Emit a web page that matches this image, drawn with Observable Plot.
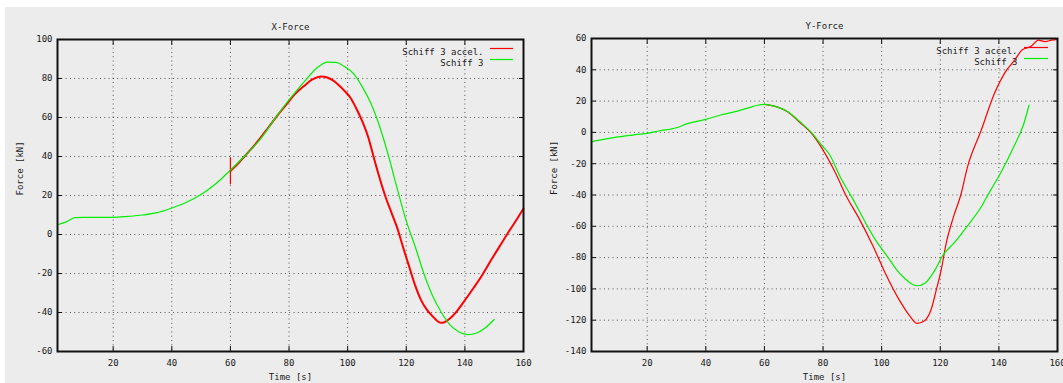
<!DOCTYPE html>
<html>
<head>
<meta charset="utf-8">
<script src="https://cdn.jsdelivr.net/npm/d3@7"></script>
<script src="https://cdn.jsdelivr.net/npm/@observablehq/plot@0.6"></script>
<style>
  html, body { margin: 0; padding: 0; background: #fff; }
  body { width: 1063px; height: 383px; position: relative; overflow: hidden; }
  #bg { position: absolute; left: 5px; top: 7px; right: 0; bottom: 0; background: #ececec; }
  .panel { position: absolute; top: 0; }
  .panel svg { overflow: visible; display: block; }
  #legend { position: absolute; left: 0; top: 0; z-index: 10; pointer-events: none; }
</style>
</head>
<body>
<div id="bg"></div>
<div id="left" class="panel" style="left:0px"></div>
<div id="right" class="panel" style="left:531px"></div>
<svg id="legend" width="1063" height="383">
  <line x1="490" x2="513" y1="48.5" y2="48.5" stroke="#ff0000" stroke-width="1.2"/>
  <line x1="490" x2="513" y1="59.5" y2="59.5" stroke="#00ee00" stroke-width="1.2"/>
  <line x1="1024" x2="1048" y1="47.5" y2="47.5" stroke="#ff0000" stroke-width="1.2"/>
  <line x1="1024" x2="1048" y1="58.5" y2="58.5" stroke="#00ee00" stroke-width="1.2"/>
</svg>
<script>
// ---------- data ----------
const xTicks = [20, 40, 60, 80, 100, 120, 140, 160];
const yTicksX = [-60, -40, -20, 0, 20, 40, 60, 80, 100];
const yTicksY = [-140, -120, -100, -80, -60, -40, -20, 0, 20, 40, 60];

// X-Force, Schiff 3
const xfGreenT = [1,4,7,10,15,20,25,30,35,40,45,50,55,60,65,70,75,80,85,90,93,96,99,102,105,108,111,114,117,120,123,126,129,132,135,138,141,144,147,150];
const xfGreenV = [5,6.5,8.7,8.8,8.8,8.8,9.3,10,11.2,13.6,16.5,20.5,26,33,40.5,48.5,59,69,78,86,88.4,88.3,86,82.5,75.7,67,55,40,23,7,-6,-20,-31.5,-40,-46.5,-50,-51.3,-50.5,-47.8,-43.6];
// X-Force, Schiff 3 accel. (start-up spike at t = 60)
const xfSpikeT = [60, 60, 60];
const xfSpikeV = [39.5, 26, 32.5];
const xfRedT = [60,63,66,70,73,76,79,82,85,88,91,93,95,97,99,101,103,105,107,109,111,113,115,117,119,121,123,125,127,129,131,132,133,135,137,140,143,146,149,152,155,158,160];
const xfRedV = [32.5,37,42,49,55,61,66.5,72,76,79.5,81,80.5,79,76.5,73.5,70,64.5,58,50,39,28.5,19,11,3,-7,-16.5,-26,-33.5,-38.5,-42,-44.8,-45.3,-45,-43,-39.8,-33.7,-27.3,-20.6,-13,-5.7,1.5,8.5,13.3];

// Y-Force, Schiff 3
const yfGreenT = [1,5,9,15,20,24,30,34,40,45,49,54,58,60,63,68,72,76,80,82,86,90,94,98,102,105,108,110,112,115,118,121,125,129,134,137,140.5,145,148.5,150.3];
const yfGreenV = [-6,-4.5,-3.2,-1.7,-0.6,0.9,3,5.8,8.3,11.1,12.8,15.4,17.5,17.9,16.9,13.2,7,0,-9.2,-13.5,-29,-42,-56,-69,-79.4,-87.5,-93.5,-96.5,-98,-96,-88.5,-78.3,-70,-60.4,-47.5,-37.5,-26.3,-9.5,5.5,17.5];
// Y-Force, Schiff 3 accel.
const yfRedT = [60,63,68,72,76,80,84,88,92,97,101,106,109.5,112,114.5,117,118.6,120.3,122,124.5,127,129.3,134,138.5,142,145.5,148,151,153.5,155.8,158,160];
const yfRedV = [17.9,16.9,13,6.5,-0.5,-11.3,-25,-41,-54,-72.5,-89,-107,-117,-122,-120.5,-112.5,-101,-88,-71,-54,-40,-22,1.5,25,38,46.5,52.8,55,59,58,59,59.5];

const seriesNames = ["Schiff 3 accel.", "Schiff 3"];
const colors = ["#ff0000", "#00ee00"];

const zip = (t, v) => t.map((d, i) => ({t: d, v: v[i]}));

function panel({title, yDomain, yTicks, red, spike, green, width, ml, mr, mt, mb, redWidth}) {
  const grid = {stroke: "#000", strokeOpacity: 0.65, strokeDasharray: "1,3.3", strokeWidth: 1};
  const fmt = d => String(d);
  const blank = () => "";
  return Plot.plot({
    width, height: 383,
    marginLeft: ml, marginRight: mr, marginTop: mt, marginBottom: mb,
    style: {background: "transparent", fontFamily: "'DejaVu Sans Mono', monospace", fontSize: "9px", color: "#1a1a1a", overflow: "visible"},
    x: {domain: [1, 160], label: null},
    y: {domain: yDomain, label: null},
    marks: [
      Plot.gridX(xTicks.filter(d => d < 160), grid),
      Plot.gridY(yTicks, grid),
      spike ? Plot.line(spike, {x: "t", y: "v", stroke: colors[0], strokeWidth: 1.2}) : null,
      Plot.line(red, {x: "t", y: "v", stroke: colors[0], strokeWidth: redWidth, curve: "monotone-x"}),
      Plot.line(green, {x: "t", y: "v", stroke: colors[1], strokeWidth: 1.2, curve: "monotone-x"}),
      Plot.axisX(xTicks, {anchor: "bottom", tickSize: 0, tickPadding: 8, tickFormat: fmt, label: null}),
      Plot.axisX(xTicks, {anchor: "bottom", tickSize: -5, tickFormat: blank, label: null, stroke: "#111"}),
      Plot.axisX(xTicks, {anchor: "top", tickSize: -5, tickFormat: blank, label: null, stroke: "#111"}),
      Plot.axisY(yTicks, {anchor: "left", tickSize: 0, tickPadding: 5, tickFormat: fmt, label: null}),
      Plot.axisY(yTicks, {anchor: "left", tickSize: -5, tickFormat: blank, label: null, stroke: "#111"}),
      Plot.axisY(yTicks, {anchor: "right", tickSize: -5, tickFormat: blank, label: null, stroke: "#111"}),
      Plot.frame({stroke: "#111", strokeWidth: 2}),
      Plot.text([title], {frameAnchor: "top", dy: -16, fill: "#1a1a1a"}),
      Plot.text(["Time [s]"], {frameAnchor: "bottom", dy: 28, fill: "#1a1a1a"}),
      Plot.text(["Force [kN]"], {frameAnchor: "left", rotate: -90, dx: -37.5, fill: "#1a1a1a"}),
      Plot.text([seriesNames[0]], {frameAnchor: "top-right", textAnchor: "end", dx: -40, dy: 9, fill: "#1a1a1a"}),
      Plot.text([seriesNames[1]], {frameAnchor: "top-right", textAnchor: "end", dx: -40, dy: 20.5, fill: "#1a1a1a"})
    ]
  });
}

document.getElementById("left").appendChild(panel({
  title: "X-Force", yDomain: [-60, 100], yTicks: yTicksX,
  red: zip(xfRedT, xfRedV), spike: zip(xfSpikeT, xfSpikeV), green: zip(xfGreenT, xfGreenV),
  width: 531, ml: 57, mr: 8, mt: 39, mb: 32, redWidth: 2
}));
document.getElementById("right").appendChild(panel({
  title: "Y-Force", yDomain: [-140, 60], yTicks: yTicksY,
  red: zip(yfRedT, yfRedV), spike: null, green: zip(yfGreenT, yfGreenV),
  width: 532, ml: 60, mr: 6, mt: 38, mb: 32, redWidth: 1.2
}));
</script>
</body>
</html>
